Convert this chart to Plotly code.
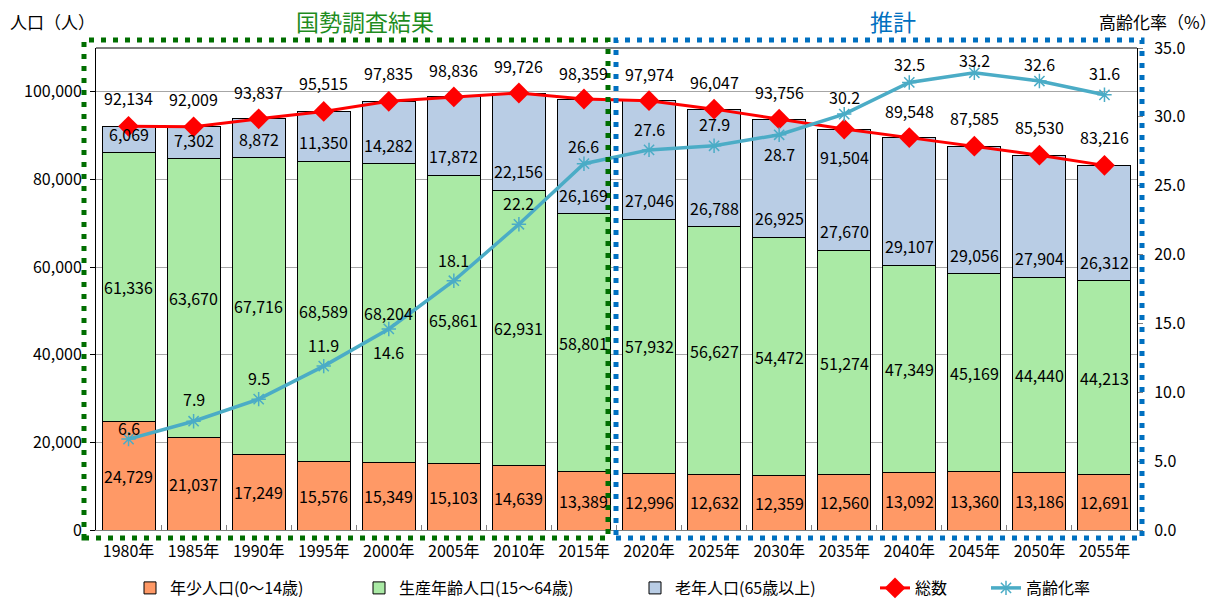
import plotly.graph_objects as go

# ---------------- data ----------------
years = ["1980年", "1985年", "1990年", "1995年", "2000年", "2005年", "2010年", "2015年",
         "2020年", "2025年", "2030年", "2035年", "2040年", "2045年", "2050年", "2055年"]
young = [24729, 21037, 17249, 15576, 15349, 15103, 14639, 13389,
         12996, 12632, 12359, 12560, 13092, 13360, 13186, 12691]
working = [61336, 63670, 67716, 68589, 68204, 65861, 62931, 58801,
           57932, 56627, 54472, 51274, 47349, 45169, 44440, 44213]
elderly = [6069, 7302, 8872, 11350, 14282, 17872, 22156, 26169,
           27046, 26788, 26925, 27670, 29107, 29056, 27904, 26312]
total = [92134, 92009, 93837, 95515, 97835, 98836, 99726, 98359,
         97974, 96047, 93756, 91504, 89548, 87585, 85530, 83216]
aging_rate = [6.6, 7.9, 9.5, 11.9, 14.6, 18.1, 22.2, 26.6,
              27.6, 27.9, 28.7, 30.2, 32.5, 33.2, 32.6, 31.6]

# label placement (pixel offsets of value labels)
total_label_shift = [28, 28, 27, 28, 28, 27, 27, 26, 27, 27, 27, -28, 27, 28, 28, 28]
rate_label_shift = [11, 22, 21, 21, -23, 21, 21, 18, 21, 22, -19, 17, 18, 13, 17, 22]

# ---------------- layout constants ----------------
W, H = 1225, 599
ML, MR, MT, MB = 96, 88, 48, 69
PW, PH = W - ML - MR, H - MT - MB
FONT = "Noto Sans CJK JP, Noto Sans, sans-serif"


def px(x):
    return (x - ML) / PW


def py(y):
    return (H - MB - y) / PH


fig = go.Figure()

bar_line = dict(color="#000000", width=1)
fig.add_bar(x=years, y=young, name="年少人口(0～14歳)", legend="legend",
            marker=dict(color="#FF9966", line=bar_line))
fig.add_bar(x=years, y=working, name="生産年齢人口(15～64歳)", legend="legend2",
            marker=dict(color="#AAEAA5", line=bar_line))
fig.add_bar(x=years, y=elderly, name="老年人口(65歳以上)", legend="legend3",
            marker=dict(color="#B9CDE5", line=bar_line))
fig.add_scatter(x=years, y=total, name="総数", mode="lines+markers", legend="legend4",
                line=dict(color="#FF0000", width=3),
                marker=dict(symbol="diamond", size=16, color="#FF0000"))
fig.add_scatter(x=years, y=aging_rate, name="高齢化率", yaxis="y2", mode="lines+markers",
                legend="legend5",
                line=dict(color="#4BACC6", width=3.5),
                marker=dict(symbol="asterisk-open", size=12,
                            color="#4BACC6", line=dict(color="#4BACC6", width=1.5)))

ann = []
lab_font = dict(family=FONT, size=16, color="#000000")
for i, yr in enumerate(years):
    ann.append(dict(x=yr, y=young[i] / 2, xref="x", yref="y", text=f"{young[i]:,}",
                    showarrow=False, font=lab_font, yanchor="middle"))
    ann.append(dict(x=yr, y=young[i] + working[i] / 2, xref="x", yref="y",
                    text=f"{working[i]:,}", showarrow=False, font=lab_font, yanchor="middle"))
    ann.append(dict(x=yr, y=young[i] + working[i], xref="x", yref="y",
                    text=f"{elderly[i]:,}", showarrow=False, font=lab_font,
                    yanchor="middle", yshift=19))
    ann.append(dict(x=yr, y=total[i], xref="x", yref="y", text=f"{total[i]:,}",
                    showarrow=False, font=lab_font, yanchor="middle",
                    yshift=total_label_shift[i]))
    ann.append(dict(x=yr, y=aging_rate[i], xref="x", yref="y2", text=f"{aging_rate[i]:.1f}",
                    showarrow=False, font=lab_font, yanchor="middle",
                    yshift=rate_label_shift[i]))

# header texts
ann.append(dict(x=px(8), y=py(22), xref="paper", yref="paper", text="人口（人）",
                showarrow=False, xanchor="left", yanchor="middle",
                font=dict(family=FONT, size=17, color="#000000")))
ann.append(dict(x=px(1219), y=py(22), xref="paper", yref="paper", text="高齢化率（%）",
                showarrow=False, xanchor="right", yanchor="middle",
                font=dict(family=FONT, size=17, color="#000000")))
ann.append(dict(x=px(365), y=py(21), xref="paper", yref="paper", text="国勢調査結果",
                showarrow=False, xanchor="center", yanchor="middle",
                font=dict(family=FONT, size=23, color="#1E8C1E")))
ann.append(dict(x=px(893), y=py(21), xref="paper", yref="paper", text="推計",
                showarrow=False, xanchor="center", yanchor="middle",
                font=dict(family=FONT, size=23, color="#0070C0")))

shapes = [
    # top border of plot area
    dict(type="line", xref="paper", yref="paper", x0=0, x1=1, y0=1, y1=1,
         line=dict(color="#000000", width=1)),
    # dotted frames
    dict(type="rect", xref="paper", yref="paper", x0=px(84), x1=px(608),
         y0=py(538), y1=py(40), line=dict(color="#006E00", width=5, dash="5px,7px")),
    dict(type="rect", xref="paper", yref="paper", x0=px(616), x1=px(1142),
         y0=py(538), y1=py(40), line=dict(color="#0070C0", width=5, dash="5px,7px")),
]


def legend_at(text_left):
    return dict(orientation="h", x=px(text_left - 41), xanchor="left",
                y=py(588), yanchor="middle", itemwidth=30,
                font=dict(family=FONT, size=16, color="#000000"),
                bgcolor="rgba(0,0,0,0)")


fig.update_layout(
    width=W, height=H,
    margin=dict(l=ML, r=MR, t=MT, b=MB, autoexpand=False),
    paper_bgcolor="#FFFFFF", plot_bgcolor="#FFFFFF",
    barmode="stack", bargap=0.185,
    font=dict(family=FONT, size=16, color="#000000"),
    showlegend=True,
    legend=legend_at(171),
    legend2=legend_at(400),
    legend3=legend_at(676),
    legend4=legend_at(916),
    legend5=legend_at(1027),
    xaxis=dict(type="category", range=[-0.5, len(years) - 0.5], autorange=False,
               showline=True, linecolor="#808080", linewidth=1,
               ticks="inside", tickson="boundaries", ticklen=5, tickcolor="#808080",
               tickfont=dict(family=FONT, size=16), showgrid=False, ticklabelstandoff=7,
               automargin=False),
    yaxis=dict(range=[0, 110000], tick0=0, dtick=20000, tickformat=",",
               showgrid=True, gridcolor="#A6A6A6", gridwidth=1, zeroline=False,
               showline=True, linecolor="#000000", linewidth=1, mirror=True,
               ticks="outside", ticklen=5, tickcolor="#000000",
               tickfont=dict(family=FONT, size=16), ticklabelstandoff=5, automargin=False),
    yaxis2=dict(overlaying="y", side="right", range=[0, 35], tick0=0, dtick=5,
                tickformat=".1f", showgrid=False, zeroline=False, showline=False,
                ticks="outside", ticklen=5, tickcolor="#808080",
                tickfont=dict(family=FONT, size=16), ticklabelstandoff=8, automargin=False),
    annotations=ann,
    shapes=shapes,
)

fig.write_html(
    "out.html",
    config={"displayModeBar": False},
    post_script="document.body.style.margin='0';document.body.style.overflow='hidden';",
)
